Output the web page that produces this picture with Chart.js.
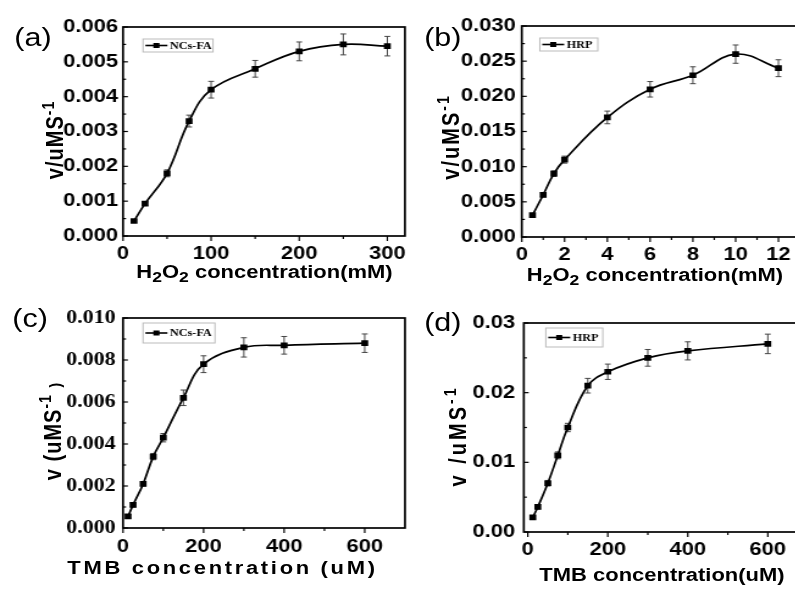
<!DOCTYPE html>
<html>
<head>
<meta charset="utf-8">
<script src="https://cdn.jsdelivr.net/npm/chart.js@4.4.0/dist/chart.umd.min.js"></script>
<style>
  html, body { margin: 0; padding: 0; background: #fff; overflow: hidden; }
  body { width: 795px; height: 589px; position: relative; }
  /* the reference figure is stretched horizontally, so the whole page is too */
  #fig { position: absolute; left: 0; top: 0; width: 652px; height: 589px; transform: scaleX(1.22); transform-origin: 0 0; }
  #fig canvas { position: absolute; }
  .lbl { position: absolute; font-family: "Liberation Sans", Arial, sans-serif; color: #000; white-space: nowrap; line-height: 1; transform: translate(-50%, -50%); }
  .panel { font-size: 25px; }
  .xt { font-size: 18px; font-weight: bold; }
  .yt { font-size: 20px; font-weight: bold; transform: translate(-50%, -50%) rotate(-90deg); }
  .sb { font-size: 0.8em; position: relative; top: 0.3em; }
  .sp { font-size: 0.7em; position: relative; top: -0.55em; }
</style>
</head>
<body>
<div id="fig">
  <canvas id="chartA"></canvas>
  <canvas id="chartB"></canvas>
  <canvas id="chartC"></canvas>
  <canvas id="chartD"></canvas>

  <div class="lbl panel" style="left:27px; top:37px;">(a)</div>
  <div class="lbl panel" style="left:363px; top:37px;">(b)</div>
  <div class="lbl panel" style="left:24.6px; top:318px;">(c)</div>
  <div class="lbl panel" style="left:363px; top:322px;">(d)</div>

  <div class="lbl xt" style="left:216.8px; top:272px;">H<span class="sb">2</span>O<span class="sb">2</span> concentration(mM)</div>
  <div class="lbl xt" style="left:536.9px; top:275px;">H<span class="sb">2</span>O<span class="sb">2</span> concentration(mM)</div>
  <div class="lbl xt" style="left:182.4px; top:568px; letter-spacing:2.2px;">TMB concentration (uM)</div>
  <div class="lbl xt" style="left:542.6px; top:575px;">TMB concentration(uM)</div>

  <div class="lbl yt" style="left:45.1px; top:140px; letter-spacing:1px;">v/uMS<span class="sp">-1</span></div>
  <div class="lbl yt" style="left:368.9px; top:137px; letter-spacing:2px;">v/uMS<span class="sp">-1</span></div>
  <div class="lbl yt" style="left:42.6px; top:431px; letter-spacing:1px;">v (uMS<span class="sp">-1</span> <span style="font-size:0.7em">)</span></div>
  <div class="lbl yt" style="left:375.4px; top:436px; letter-spacing:3px;">v /uMS<span class="sp">-1</span></div>
</div>

<script>
const S = 1.22; // horizontal stretch of the figure

// (a) NCs-FA, H2O2
const aX = [12.5, 25, 50, 75, 100, 150, 200, 250, 300];
const aY = [0.00043, 0.00093, 0.0018, 0.0033, 0.0042, 0.0048, 0.0053, 0.0055, 0.00545];
const aErr = [0.00003, 0.00005, 0.0001, 0.00017, 0.00024, 0.00024, 0.00027, 0.0003, 0.00028];
const aXTicks = [0, 100, 200, 300];
const aYTicks = [0, 0.001, 0.002, 0.003, 0.004, 0.005, 0.006];

// (b) HRP, H2O2
const bX = [0.5, 1, 1.5, 2, 4, 6, 8, 10, 12];
const bY = [0.0031, 0.006, 0.009, 0.011, 0.017, 0.021, 0.023, 0.026, 0.024];
const bErr = [0.0002, 0.0003, 0.0004, 0.0005, 0.0009, 0.0011, 0.0012, 0.0013, 0.0012];
const bXTicks = [0, 2, 4, 6, 8, 10, 12];
const bYTicks = [0, 0.005, 0.010, 0.015, 0.020, 0.025, 0.030];

// (c) NCs-FA, TMB
const cX = [12.5, 25, 50, 75, 100, 150, 200, 300, 400, 600];
const cY = [0.00055, 0.0011, 0.0021, 0.0034, 0.0043, 0.0062, 0.0078, 0.0086, 0.0087, 0.0088];
const cErr = [0.00008, 0.0001, 0.0001, 0.00015, 0.0002, 0.00037, 0.0004, 0.00046, 0.00042, 0.00044];
const cXTicks = [0, 200, 400, 600];
const cYTicks = [0, 0.002, 0.004, 0.006, 0.008, 0.010];

// (d) HRP, TMB
const dX = [12.5, 25, 50, 75, 100, 150, 200, 300, 400, 600];
const dY = [0.0021, 0.0036, 0.007, 0.011, 0.015, 0.021, 0.023, 0.025, 0.026, 0.027];
const dErr = [0.0002, 0.0003, 0.0004, 0.0005, 0.0006, 0.00105, 0.0011, 0.0012, 0.0013, 0.0014];
const dXTicks = [0, 200, 400, 600];
const dYTicks = [0, 0.01, 0.02, 0.03];

Chart.defaults.color = '#000';

// minor ticks halfway between the major ones
function minorsOf(ticks, min, max) {
    const out = [];
    for (let i = 0; i < ticks.length; i++) {
        const step = i < ticks.length - 1 ? ticks[i + 1] - ticks[i] : ticks[i] - ticks[i - 1];
        const m = ticks[i] + step / 2;
        if (m > min && m < max) out.push(m);
    }
    return out;
}

function line(ctx, x1, y1, x2, y2) {
    ctx.beginPath();
    ctx.moveTo(x1, y1);
    ctx.lineTo(x2, y2);
    ctx.stroke();
}

// frame, ticks, error bars and the small legend box
const framePlugin = {
    id: 'frame',
    beforeDatasetsDraw(chart) {
        const ctx = chart.ctx;
        const ds = chart.data.datasets[0];
        const meta = chart.getDatasetMeta(0);
        const ys = chart.scales.y;
        ctx.save();
        ctx.strokeStyle = '#444';
        ctx.lineWidth = 1;
        meta.data.forEach((pt, i) => {
            const v = ds.data[i].y, e = ds.errorBars[i];
            const y1 = ys.getPixelForValue(v + e), y2 = ys.getPixelForValue(v - e);
            line(ctx, pt.x, y1, pt.x, y2);
            line(ctx, pt.x - 2.4, y1, pt.x + 2.4, y1);
            line(ctx, pt.x - 2.4, y2, pt.x + 2.4, y2);
        });
        ctx.restore();
    },
    afterDraw(chart, args, o) {
        const ctx = chart.ctx;
        const {left, right, top, bottom} = chart.chartArea;
        const xs = chart.scales.x, ys = chart.scales.y;
        ctx.save();
        ctx.strokeStyle = '#000';
        ctx.lineWidth = 1.7;
        ctx.strokeRect(left, top, right - left, bottom - top);

        ctx.lineWidth = 1.2;
        xs.ticks.forEach(t => { const p = xs.getPixelForValue(t.value); line(ctx, p, bottom, p, bottom + 5); });
        o.xMinor.forEach(v => { const p = xs.getPixelForValue(v); line(ctx, p, bottom, p, bottom + 3); });
        ys.ticks.forEach(t => { const p = ys.getPixelForValue(t.value); line(ctx, left, p, left + 4, p); });
        o.yMinor.forEach(v => { const p = ys.getPixelForValue(v); line(ctx, left, p, left + 2.5, p); });

        // legend
        const lg = o.legend;
        ctx.strokeStyle = '#bbb';
        ctx.lineWidth = 1;
        ctx.strokeRect(lg.x, lg.y, lg.w, lg.h);
        const my = lg.y + lg.h / 2;
        ctx.strokeStyle = '#000';
        ctx.lineWidth = 1.6;
        line(ctx, lg.x + 2, my, lg.x + 2 + lg.seg, my);
        ctx.fillStyle = '#000';
        ctx.fillRect(lg.x + 2 + lg.seg / 2 - 2.5, my - 2.5, 5, 5);
        ctx.font = 'bold 10px "Liberation Serif", "Times New Roman", serif';
        ctx.textBaseline = 'middle';
        ctx.textAlign = 'left';
        ctx.fillText(lg.text, lg.x + 4 + lg.seg, my + 0.5);
        ctx.restore();
    }
};

// box / area / legend are given in page pixels of the reference picture
function makePanel(id, box, area, p) {
    const cv = document.getElementById(id);
    const L = box.left / S;
    cv.width = Math.round(box.width / S);
    cv.height = box.height;
    cv.style.left = L + 'px';
    cv.style.top = box.top + 'px';

    const aL = area.left / S - L, aR = area.right / S - L;
    const aT = area.top - box.top, aB = area.bottom - box.top;

    const sans = '"Liberation Sans", Arial, sans-serif';
    const serif = '"Liberation Serif", "Times New Roman", serif';

    new Chart(cv, {
        type: 'line',
        data: {
            datasets: [{
                data: p.x.map((x, i) => ({x: x, y: p.y[i]})),
                errorBars: p.err,
                borderColor: '#000',
                backgroundColor: '#000',
                borderWidth: 1.7,
                pointStyle: 'rect',
                pointRadius: 4,
                pointHoverRadius: 4,
                pointBorderWidth: 0,
                tension: 0.4
            }]
        },
        options: {
            responsive: false,
            animation: false,
            events: [],
            layout: { padding: { left: 0, top: aT, right: cv.width - aR, bottom: 0 } },
            plugins: {
                legend: { display: false },
                tooltip: { enabled: false },
                frame: {
                    xMinor: minorsOf(p.xTicks, p.xMin, p.xMax),
                    yMinor: minorsOf(p.yTicks, p.yMin, p.yMax),
                    legend: {
                        x: p.legend.x1 / S - L, y: p.legend.y1 - box.top,
                        w: (p.legend.x2 - p.legend.x1) / S, h: p.legend.y2 - p.legend.y1,
                        seg: 18, text: p.legend.text
                    }
                }
            },
            scales: {
                x: {
                    type: 'linear',
                    min: p.xMin, max: p.xMax,
                    grid: { display: false, drawTicks: false },
                    border: { display: false },
                    afterBuildTicks: s => { s.ticks = p.xTicks.map(v => ({value: v})); },
                    afterFit: s => { s.height = cv.height - aB; },
                    ticks: {
                        autoSkip: false, maxRotation: 0, padding: p.xPad,
                        font: { family: sans, weight: 'bold', size: 18 },
                        callback: v => String(v)
                    }
                },
                y: {
                    type: 'linear',
                    min: p.yMin, max: p.yMax,
                    grid: { display: false, drawTicks: false },
                    border: { display: false },
                    afterBuildTicks: s => { s.ticks = p.yTicks.map(v => ({value: v})); },
                    afterFit: s => { s.width = aL; },
                    ticks: {
                        autoSkip: false, padding: p.yPad,
                        font: { family: p.yFont === 'serif' ? serif : sans, weight: 'bold', size: p.yFont === 'serif' ? 18 : 18 },
                        callback: v => v.toFixed(p.yDec)
                    }
                }
            }
        },
        plugins: [framePlugin]
    });
}

makePanel('chartA', {left: 0, top: 0, width: 415, height: 290}, {left: 123, top: 27, right: 405, bottom: 236}, {
    x: aX, y: aY, err: aErr, xTicks: aXTicks, yTicks: aYTicks,
    xMin: 0, xMax: 320, yMin: 0, yMax: 0.006, yDec: 3, xPad: 7, yPad: 4, yFont: 'sans',
    legend: {x1: 143, y1: 39, x2: 213, y2: 52, text: 'NCs-FA'}
});

makePanel('chartB', {left: 415, top: 0, width: 390, height: 290}, {left: 522, top: 26, right: 800, bottom: 237}, {
    x: bX, y: bY, err: bErr, xTicks: bXTicks, yTicks: bYTicks,
    xMin: 0, xMax: 13, yMin: 0, yMax: 0.030, yDec: 3, xPad: 7, yPad: 5, yFont: 'sans',
    legend: {x1: 540, y1: 38, x2: 598, y2: 51, text: 'HRP'}
});

makePanel('chartC', {left: 0, top: 290, width: 415, height: 299}, {left: 123, top: 318, right: 405, bottom: 528}, {
    x: cX, y: cY, err: cErr, xTicks: cXTicks, yTicks: cYTicks,
    xMin: 0, xMax: 700, yMin: 0, yMax: 0.010, yDec: 3, xPad: 8, yPad: 6, yFont: 'serif',
    legend: {x1: 143, y1: 323, x2: 215, y2: 343, text: 'NCs-FA'}
});

makePanel('chartD', {left: 415, top: 290, width: 390, height: 299}, {left: 524, top: 323, right: 800, bottom: 532}, {
    x: dX, y: dY, err: dErr, xTicks: dXTicks, yTicks: dYTicks,
    xMin: -10, xMax: 680, yMin: 0, yMax: 0.03, yDec: 2, xPad: 7, yPad: 7, yFont: 'sans',
    legend: {x1: 546, y1: 328, x2: 603, y2: 347, text: 'HRP'}
});
</script>
</body>
</html>
